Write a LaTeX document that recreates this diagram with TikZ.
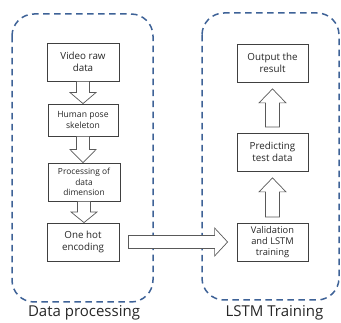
\documentclass[tikz,border=0pt]{standalone}
\usepackage{fontspec}
\setmainfont{Open Sans}
\usetikzlibrary{calc}
\begin{document}
\begin{tikzpicture}[x=1pt,y=-1pt,
  group/.style={draw=groupblue, line width=1.5pt, dash pattern=on 6.5pt off 4.5pt, rounded corners=22pt},
  stepbox/.style={draw=black!75, line width=0.8pt, fill=white, align=center, inner sep=0pt, text=black!85},
  hollow/.style={draw=black!65, line width=0.7pt, fill=white, line join=miter},
  grouplabel/.style={font=\fontsize{15}{17}\selectfont, text=black!85}
]
\definecolor{groupblue}{HTML}{3E6297}
\useasboundingbox (0,0) rectangle (341,323);

% dashed group frames
\draw[group] (12,14) rectangle (153,302);
\draw[group] (202,13) rectangle (339,300);

% left column steps
\node[stepbox, minimum width=72pt, minimum height=38pt, font=\fontsize{9.8}{11.7}\selectfont] (a) at (83,62) {Video raw\\data};
\node[stepbox, minimum width=70pt, minimum height=32pt, font=\fontsize{8.6}{11}\selectfont] (b) at (83,120) {Human pose\\skeleton};
\node[stepbox, minimum width=72pt, minimum height=38pt, font=\fontsize{8.4}{10.7}\selectfont] (c) at (84,182) {Processing of\\data\\dimension};
\node[stepbox, minimum width=72pt, minimum height=38pt, font=\fontsize{9.8}{11.7}\selectfont] (d) at (83,242) {One hot\\encoding};

% right column steps
\node[stepbox, minimum width=71pt, minimum height=38pt, font=\fontsize{9.8}{11.7}\selectfont] (e) at (272.5,63) {Output the\\result};
\node[stepbox, minimum width=71pt, minimum height=38pt, font=\fontsize{9.8}{11.7}\selectfont] (f) at (272.5,152) {Predicting\\test data};
\node[stepbox, minimum width=71pt, minimum height=38pt, font=\fontsize{9.3}{11.2}\selectfont] (g) at (272.5,242) {Validation\\and LSTM\\training};

% hollow block arrows, downward (left column)
\foreach \s/\t in {a/b, b/c, c/d}{
  \path (\s.south) coordinate (p0) (\t.north) coordinate (p1);
  \draw[hollow] let \p0=(p0), \p1=(p1) in
    (\x0-6.5pt,\y0) -- (\x0+6.5pt,\y0) -- (\x0+6.5pt,{0.5*(\y0+\y1)}) -- (\x0+13pt,{0.5*(\y0+\y1)})
    -- (\x0,\y1) -- (\x0-13pt,{0.5*(\y0+\y1)}) -- (\x0-6.5pt,{0.5*(\y0+\y1)}) -- cycle;
}

% hollow block arrows, upward (right column)
\foreach \s/\t in {g/f, f/e}{
  \path ([yshift=5.5pt]\s.north) coordinate (p0) ([yshift=-6.5pt]\t.south) coordinate (p1);
  \draw[hollow] let \p0=(p0), \p1=(p1) in
    (\x0-7pt,\y0) -- (\x0+7pt,\y0) -- (\x0+7pt,\y1-14pt) -- (\x0+13.5pt,\y1-14pt)
    -- (\x0,\y1) -- (\x0-13.5pt,\y1-14pt) -- (\x0-7pt,\y1-14pt) -- cycle;
}

% hollow block arrow joining the two groups
\path ([xshift=9pt]d.east) coordinate (h0) ([xshift=-9pt]g.west) coordinate (h1);
\draw[hollow] let \p0=(h0), \p1=(h1) in
  (\x0,\y0-6.5pt) -- (\x1-13pt,\y0-6.5pt) -- (\x1-13pt,\y0-14pt) -- (\x1,\y0)
  -- (\x1-13pt,\y0+14pt) -- (\x1-13pt,\y0+6.5pt) -- (\x0,\y0+6.5pt) -- cycle;

% group captions
\node[grouplabel] (lp) at (84,313) {Data processing};
\node[grouplabel] (lt) at (274.5,313) {LSTM Training};
\end{tikzpicture}
\end{document}
